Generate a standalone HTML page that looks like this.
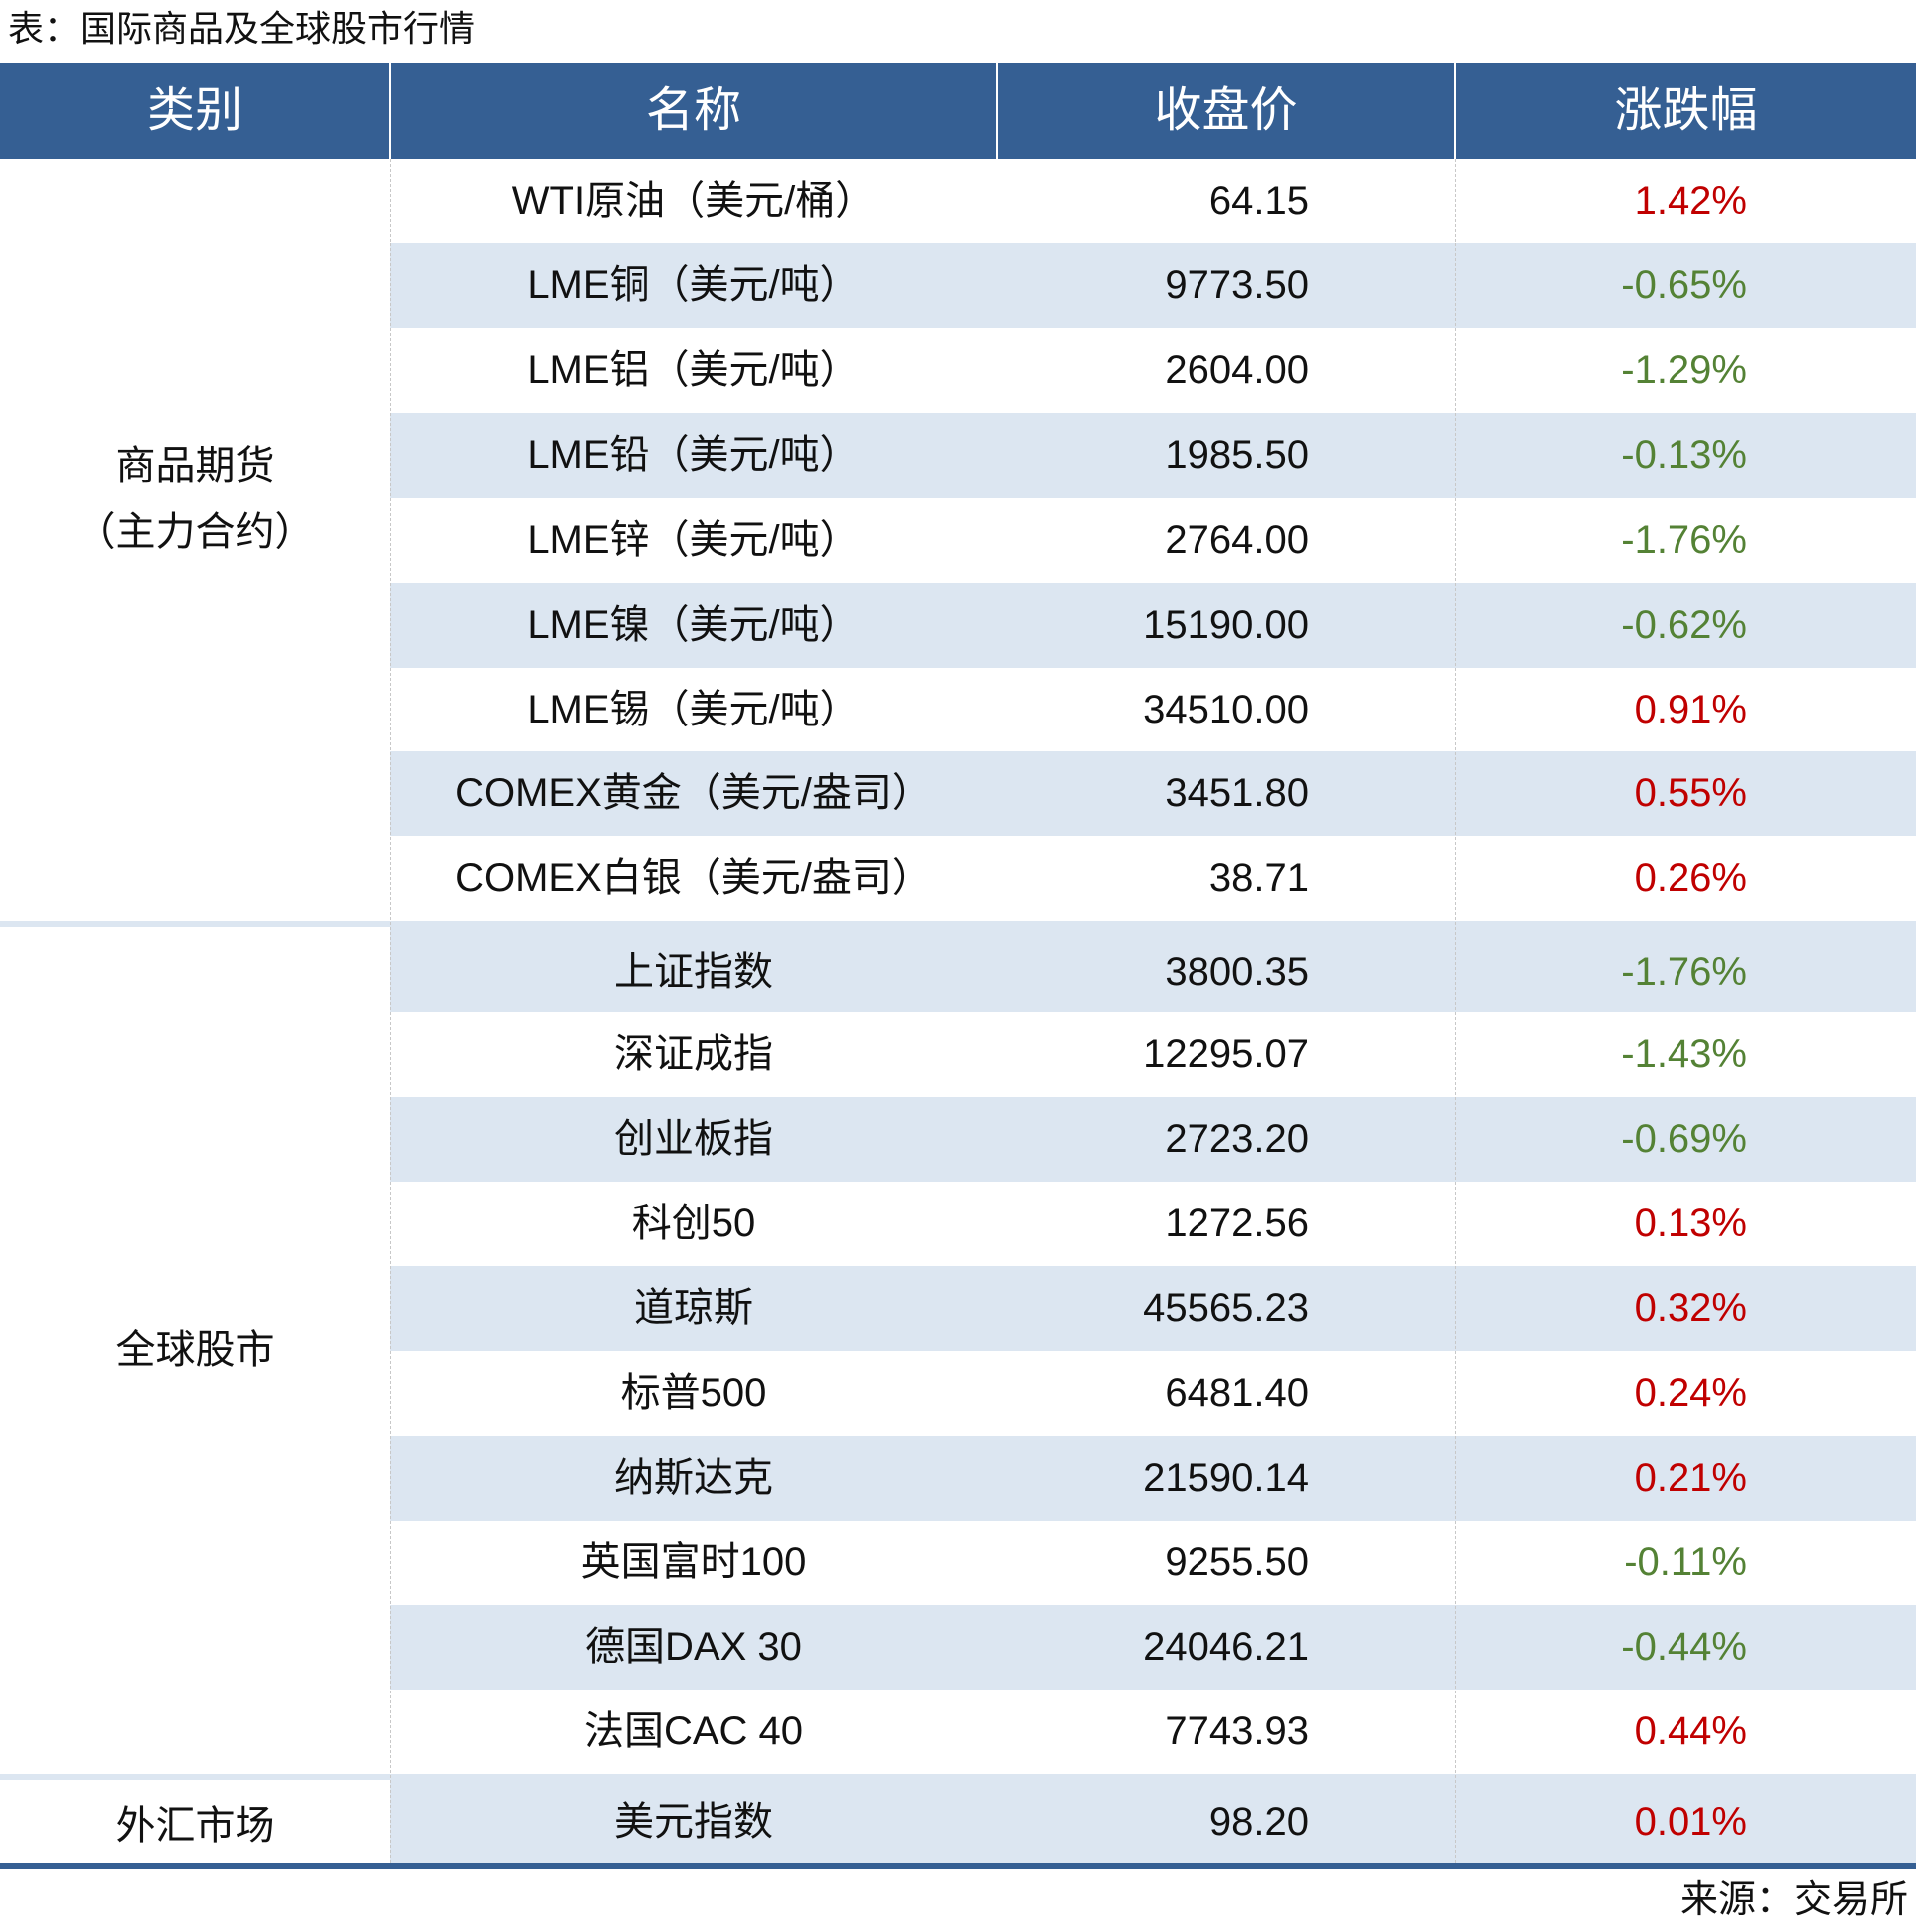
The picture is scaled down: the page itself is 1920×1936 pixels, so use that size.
<!DOCTYPE html>
<html><head><meta charset="utf-8"><style>
*{margin:0;padding:0;box-sizing:border-box}
body{width:1920px;height:1936px;background:#fff;position:relative;overflow:hidden;font-family:"Liberation Sans","Noto Sans CJK SC",sans-serif;color:#111}
.a{position:absolute}
.t{left:8px;top:6px;font-size:36px;line-height:46px}
.hd{top:63px;height:96px;background:#355f93;color:#fff;font-size:48px;line-height:96px;text-align:center}
.row{position:absolute;left:391px;width:1529px;height:85px}
.b{background:#dce6f1}
.c{position:absolute;top:0;font-size:40px;line-height:85px;white-space:nowrap}
.n{left:0;width:608px;text-align:center}
.v{left:608px;width:313px;text-align:right}
.p{left:1067px;width:293px;text-align:right}
.r{color:#c00000}.g{color:#548235}
.cat{left:0;width:391px;text-align:center;font-size:40px;line-height:66px}
</style></head><body>
<div class="a t">表：国际商品及全球股市行情</div>
<div class="a hd" style="left:0;width:390px">类别</div>
<div class="a hd" style="left:392px;width:606px">名称</div>
<div class="a hd" style="left:1000px;width:457px">收盘价</div>
<div class="a hd" style="left:1459px;width:461px">涨跌幅</div>

<div class="row" style="top:159px"><div class="c n">WTI原油（美元/桶）</div><div class="c v">64.15</div><div class="c p r">1.42%</div></div>
<div class="row b" style="top:244px"><div class="c n">LME铜（美元/吨）</div><div class="c v">9773.50</div><div class="c p g">-0.65%</div></div>
<div class="row" style="top:329px"><div class="c n">LME铝（美元/吨）</div><div class="c v">2604.00</div><div class="c p g">-1.29%</div></div>
<div class="row b" style="top:414px"><div class="c n">LME铅（美元/吨）</div><div class="c v">1985.50</div><div class="c p g">-0.13%</div></div>
<div class="row" style="top:499px"><div class="c n">LME锌（美元/吨）</div><div class="c v">2764.00</div><div class="c p g">-1.76%</div></div>
<div class="row b" style="top:584px"><div class="c n">LME镍（美元/吨）</div><div class="c v">15190.00</div><div class="c p g">-0.62%</div></div>
<div class="row" style="top:669px"><div class="c n">LME锡（美元/吨）</div><div class="c v">34510.00</div><div class="c p r">0.91%</div></div>
<div class="row b" style="top:753px"><div class="c n">COMEX黄金（美元/盎司）</div><div class="c v">3451.80</div><div class="c p r">0.55%</div></div>
<div class="row" style="top:838px"><div class="c n">COMEX白银（美元/盎司）</div><div class="c v">38.71</div><div class="c p r">0.26%</div></div>

<div class="row b" style="top:923px;height:91px"><div class="c n" style="line-height:102px">上证指数</div><div class="c v" style="line-height:102px">3800.35</div><div class="c p g" style="line-height:102px">-1.76%</div></div>
<div class="row" style="top:1014px"><div class="c n">深证成指</div><div class="c v">12295.07</div><div class="c p g">-1.43%</div></div>
<div class="row b" style="top:1099px"><div class="c n">创业板指</div><div class="c v">2723.20</div><div class="c p g">-0.69%</div></div>
<div class="row" style="top:1184px"><div class="c n">科创50</div><div class="c v">1272.56</div><div class="c p r">0.13%</div></div>
<div class="row b" style="top:1269px"><div class="c n">道琼斯</div><div class="c v">45565.23</div><div class="c p r">0.32%</div></div>
<div class="row" style="top:1354px"><div class="c n">标普500</div><div class="c v">6481.40</div><div class="c p r">0.24%</div></div>
<div class="row b" style="top:1439px"><div class="c n">纳斯达克</div><div class="c v">21590.14</div><div class="c p r">0.21%</div></div>
<div class="row" style="top:1523px"><div class="c n">英国富时100</div><div class="c v">9255.50</div><div class="c p g">-0.11%</div></div>
<div class="row b" style="top:1608px"><div class="c n">德国DAX 30</div><div class="c v">24046.21</div><div class="c p g">-0.44%</div></div>
<div class="row" style="top:1693px"><div class="c n">法国CAC 40</div><div class="c v">7743.93</div><div class="c p r">0.44%</div></div>
<div class="row b" style="top:1778px;height:89px"><div class="c n" style="line-height:96px">美元指数</div><div class="c v" style="line-height:96px">98.20</div><div class="c p r" style="line-height:96px">0.01%</div></div>

<div class="a" style="left:0;top:923px;width:391px;height:6px;background:#dce6f1"></div>
<div class="a" style="left:0;top:1778px;width:391px;height:6px;background:#dce6f1"></div>
<div class="a" style="left:391px;top:159px;width:1px;height:1708px;border-left:1px dashed #c8c8c8"></div>
<div class="a" style="left:1458px;top:159px;width:1px;height:1708px;border-left:1px dashed #c8c8c8"></div>
<div class="a" style="left:0;top:1867px;width:1920px;height:6px;background:#355f93"></div>
<div class="a cat" style="top:434px">商品期货<br>（主力合约）</div>
<div class="a cat" style="top:1320px">全球股市</div>
<div class="a cat" style="top:1797px">外汇市场</div>
<div class="a" style="right:8px;top:1880px;font-size:38px;line-height:48px">来源：交易所</div>
</body></html>
